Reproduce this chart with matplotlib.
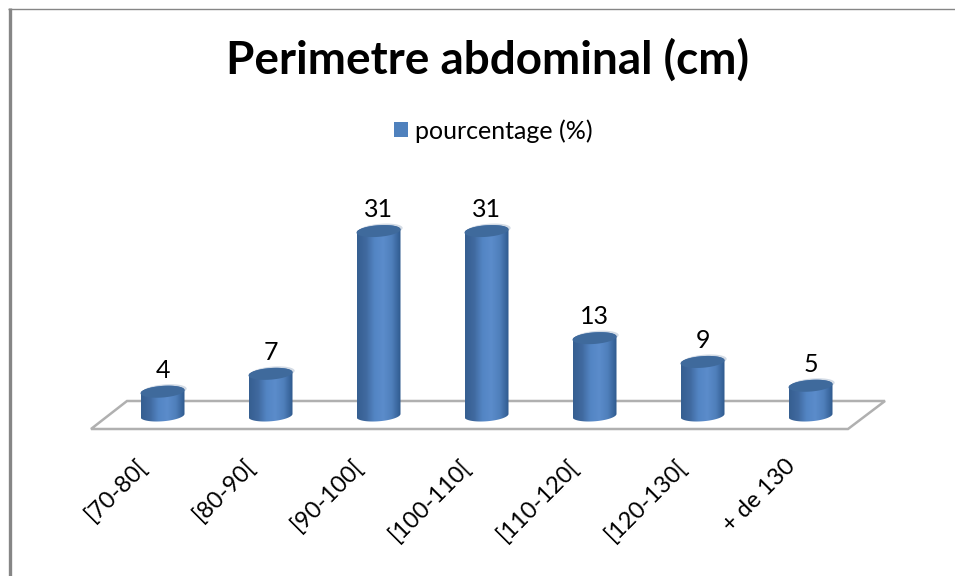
import numpy as np
import matplotlib
matplotlib.use("Agg")
import matplotlib.pyplot as plt
from matplotlib.colors import LinearSegmentedColormap
from matplotlib.lines import Line2D
from matplotlib.patches import Patch, Polygon
from matplotlib.transforms import ScaledTranslation

categories = ["[70-80[", "[80-90[", "[90-100[", "[100-110[", "[110-120[", "[120-130[", "+ de 130"]
values = [4, 7, 31, 31, 13, 9, 5]
series_name = "pourcentage (%)"
title = "Perimetre abdominal (cm)"

W, H = 955, 576
PX_PER_CAT = 108.0
PX_PER_UNIT = 5.95
X0_PX = 162.5
Y0_PX = 415.5
HALF_W = 22 / PX_PER_CAT
HALF_H = 5.8 / PX_PER_UNIT
TILT = 1.6 / PX_PER_UNIT

plt.rcParams["font.family"] = ["Lato", "DejaVu Sans"]

body_cmap = LinearSegmentedColormap.from_list(
    "body", ["#365f91", "#40699f", "#5385c4", "#5b8ccb", "#4f7fbb", "#2f5a8e"])


def ellipse(cx, cy, t):
    return np.column_stack([cx + HALF_W * np.cos(t),
                            cy + HALF_H * np.sin(t) + TILT * np.cos(t)])


def fig_line(xs, ys, color, lw):
    fig.add_artist(Line2D([x / W for x in xs], [1 - y / H for y in ys],
                          color=color, lw=lw, solid_capstyle="butt",
                          transform=fig.transFigure))


fig = plt.figure(figsize=(W / 100, H / 100), dpi=100)
left, right, top, bottom = 91, 848, 100, 429
ax = fig.add_axes([left / W, 1 - bottom / H, (right - left) / W, (bottom - top) / H])
xlim = ((left - X0_PX) / PX_PER_CAT, (right - X0_PX) / PX_PER_CAT)
ylim = ((Y0_PX - bottom) / PX_PER_UNIT, (Y0_PX - top) / PX_PER_UNIT)

# frame of the picture
fig_line([9.5, 9.5], [8, 576], "#868686", 2.4)
fig_line([8, 955], [8.5, 8.5], "#868686", 1.0)

# floor
floor = Polygon([[91 / W, 1 - 429 / H], [848 / W, 1 - 429 / H],
                 [885 / W, 1 - 401 / H], [127 / W, 1 - 401 / H]], closed=True,
                facecolor="white", edgecolor="#b0b0b0", lw=1.8,
                transform=fig.transFigure, zorder=0)
fig.add_artist(floor)
ax.patch.set_visible(False)

gradient = np.linspace(0, 1, 64).reshape(1, -1)
for i, v in enumerate(values):
    # pale rim peeking out behind the top
    back = ellipse(i + 0.02, v + 0.25, np.linspace(0, 2 * np.pi, 80))
    ax.add_patch(Polygon(back, closed=True, facecolor="#d3dbe5", edgecolor="none", zorder=2))

    t_low = np.linspace(np.pi, 2 * np.pi, 40)
    t_up = np.linspace(0, np.pi, 40)
    outline = np.vstack([ellipse(i, 0, t_low), ellipse(i, v, t_up)])
    clip = Polygon(outline, closed=True, transform=ax.transData)
    im = ax.imshow(gradient, cmap=body_cmap, aspect="auto", zorder=3,
                   extent=(i - HALF_W, i + HALF_W, -3, v + 3))
    im.set_clip_path(clip)

    cap = ellipse(i, v, np.linspace(0, 2 * np.pi, 80))
    ax.add_patch(Polygon(cap, closed=True, facecolor="#3f6a9c", edgecolor="none", zorder=4))

    ax.annotate(str(v), (i, v), xytext=(0, 7), textcoords="offset points",
                ha="center", va="bottom", fontsize=18, color="black")

ax.set_xlim(xlim)
ax.set_ylim(ylim)
ax.set_yticks([])
ax.set_xticks(range(len(categories)))
ax.set_xticklabels(categories, rotation=45, ha="right", rotation_mode="anchor", fontsize=17)
ax.tick_params(axis="x", length=0, pad=19)
shift = ScaledTranslation(-19 / 72, 0, fig.dpi_scale_trans)
for lab in ax.get_xticklabels():
    lab.set_transform(lab.get_transform() + shift)
for s in ax.spines.values():
    s.set_visible(False)

fig.text(488 / W, 1 - 60 / H, title, ha="center", va="center",
         fontsize=33, fontweight="bold", color="black")

handle = Patch(facecolor="#4f81bd", edgecolor="none", label=series_name)
fig.legend(handles=[handle], loc="center", bbox_to_anchor=(493.5 / W, 1 - 131 / H),
           frameon=False, fontsize=18, handlelength=0.55, handleheight=0.55, handletextpad=0.3)

fig.savefig("out.png", dpi=100)
plt.close(fig)
